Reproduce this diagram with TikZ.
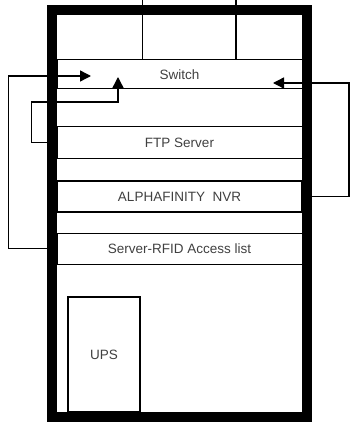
\documentclass[tikz,border=0pt]{standalone}
\usepackage{fontspec}
\setmainfont{Liberation Sans}
\usetikzlibrary{arrows.meta}

\begin{document}
\begin{tikzpicture}[x=1pt,y=-1pt,
  unit/.style={draw, line width=1pt, minimum width=245pt, minimum height=#1, inner sep=0pt, text=black!75, font=\fontsize{13.5}{15}\selectfont},
  conn/.style={line width=1.4pt, -{Triangle[length=11pt,width=11pt]}}]
  \useasboundingbox (0,0) rectangle (349,422);
  \node[unit=29pt] (switch) at (179.5,74.5) {Switch};
  \node[unit=31pt] (ftp) at (179.5,142.5) {FTP Server};
  \node[unit=31pt, line width=1.8pt] (nvr) at (179.5,196.5) {ALPHAFINITY\ \ NVR};
  \node[unit=31pt] (rfid) at (179.5,248.5) {Server-RFID Access list};
  \node[draw, line width=1.4pt, minimum width=72pt, minimum height=115pt, text=black!75, font=\fontsize{13.5}{15}\selectfont] (ups) at (104,354.5) {UPS};
  \coordinate (patch1) at (142,0);
  \coordinate (patch2) at (236,0);
  \coordinate (swa) at (91,76);
  \coordinate (swb) at (118,77);
  \coordinate (swc) at (273,83);
  \draw[line width=1pt] (patch1) -- (patch1 |- switch.north);
  \draw[line width=1.8pt] (patch2) -- (patch2 |- switch.north);
  \draw[conn] (rfid.west) -- ++(-48,0) |- (swa);
  \draw[conn] (ftp.west) -- ++(-25,0) |- ([yshift=-25pt]swb) -- (swb);
  \draw[conn] (nvr.east) -- ++(46,0) |- (swc);
  \draw[line width=10pt] (52,10.5) rectangle (307,417);
\end{tikzpicture}
\end{document}
